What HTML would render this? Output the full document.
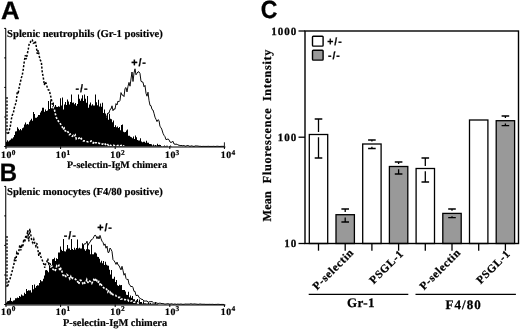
<!DOCTYPE html>
<html><head><meta charset="utf-8"><title>Figure</title>
<style>html,body{margin:0;padding:0;background:#fff}svg{display:block}</style></head>
<body>
<svg width="520" height="330" viewBox="0 0 520 330" text-rendering="geometricPrecision">
<rect width="520" height="330" fill="#fff"/>
<text transform="translate(1.1,18.8) scale(1.02,1)" font-family="'Liberation Sans',sans-serif" font-weight="bold" font-size="25.2" stroke="#000" stroke-width="0.3">A</text>
<clipPath id="clipA"><polygon points="6,146.5 6,141.7 7,141.7 7,140.3 8,140.3 8,141.4 9,141.4 9,140.6 10,140.6 10,139.8 11,139.8 11,138.4 12,138.4 12,138.6 13,138.6 13,137.2 14,137.2 14,135.1 15,135.1 15,131.4 16,131.4 16,131.2 17,131.2 17,127.2 18,127.2 18,128.7 19,128.7 19,130.2 20,130.2 20,128.9 21,128.9 21,130.3 22,130.3 22,128.2 23,128.2 23,127.5 24,127.5 24,124.6 25,124.6 25,122.6 26,122.6 26,124.6 27,124.6 27,123.9 28,123.9 28,124.4 29,124.4 29,121.8 30,121.8 30,120.2 31,120.2 31,118.8 32,118.8 32,120.8 33,120.8 33,112.0 34,112.0 34,114.1 35,114.1 35,117.8 36,117.8 36,117.8 37,117.8 37,116.8 38,116.8 38,115.1 39,115.1 39,115.0 40,115.0 40,112.5 41,112.5 41,110.7 42,110.7 42,107.7 43,107.7 43,107.8 44,107.8 44,111.8 45,111.8 45,109.4 46,109.4 46,111.0 47,111.0 47,110.6 48,110.6 48,101.1 49,101.1 49,109.1 50,109.1 50,99.5 51,99.5 51,108.2 52,108.2 52,106.3 53,106.3 53,102.5 54,102.5 54,106.8 55,106.8 55,104.9 56,104.9 56,106.8 57,106.8 57,106.9 58,106.9 58,106.2 59,106.2 59,106.7 60,106.7 60,98.3 61,98.3 61,105.4 62,105.4 62,97.4 63,97.4 63,109.5 64,109.5 64,104.6 65,104.6 65,102.1 66,102.1 66,105.0 67,105.0 67,99.6 68,99.6 68,101.4 69,101.4 69,104.6 70,104.6 70,102.1 71,102.1 71,94.5 72,94.5 72,102.7 73,102.7 73,102.4 74,102.4 74,104.3 75,104.3 75,102.9 76,102.9 76,105.8 77,105.8 77,103.9 78,103.9 78,94.5 79,94.5 79,98.8 80,98.8 80,100.7 81,100.7 81,98.6 82,98.6 82,95.2 83,95.2 83,100.9 84,100.9 84,94.5 85,94.5 85,98.8 86,98.8 86,102.8 87,102.8 87,95.9 88,95.9 88,107.7 89,107.7 89,104.5 90,104.5 90,102.4 91,102.4 91,105.4 92,105.4 92,104.3 93,104.3 93,105.4 94,105.4 94,105.6 95,105.6 95,94.5 96,94.5 96,102.2 97,102.2 97,105.3 98,105.3 98,99.7 99,99.7 99,106.5 100,106.5 100,103.4 101,103.4 101,106.8 102,106.8 102,102.8 103,102.8 103,113.1 104,113.1 104,109.4 105,109.4 105,113.5 106,113.5 106,117.3 107,117.3 107,113.3 108,113.3 108,119.7 109,119.7 109,113.8 110,113.8 110,118.7 111,118.7 111,119.2 112,119.2 112,122.2 113,122.2 113,120.6 114,120.6 114,126.9 115,126.9 115,125.3 116,125.3 116,127.3 117,127.3 117,126.5 118,126.5 118,128.1 119,128.1 119,127.0 120,127.0 120,130.3 121,130.3 121,125.1 122,125.1 122,124.6 123,124.6 123,131.7 124,131.7 124,132.2 125,132.2 125,132.1 126,132.1 126,130.4 127,130.4 127,129.5 128,129.5 128,135.7 129,135.7 129,135.7 130,135.7 130,136.7 131,136.7 131,137.2 132,137.2 132,138.2 133,138.2 133,136.6 134,136.6 134,138.9 135,138.9 135,135.6 136,135.6 136,137.2 137,137.2 137,140.1 138,140.1 138,140.5 139,140.5 139,140.6 140,140.6 140,138.3 141,138.3 141,141.5 142,141.5 142,142.3 143,142.3 143,141.8 144,141.8 144,141.7 145,141.7 145,142.8 146,142.8 146,140.7 147,140.7 147,142.8 148,142.8 148,142.8 149,142.8 149,144.0 150,144.0 150,143.9 151,143.9 151,144.3 152,144.3 152,145.4 153,145.4 153,144.5 154,144.5 154,145.5 155,145.5 155,145.0 156,145.0 156,145.6 157,145.6 157,143.7 158,143.7 158,145.1 159,145.1 159,144.8 160,144.8 160,144.9 161,144.9 161,146.0 162,146.0 162,146.3 163,146.3 163,145.9 164,145.9 164,145.5 165,145.5 165,146.0 166,146.0 166,145.7 167,145.7 167,145.7 168,145.7 168,146.4 169,146.4 169,146.1 170,146.1 170,145.5 171,145.5 171,146.3 172,146.3 172,146.5 173,146.5 173,146.4 174,146.4 174,146.4 175,146.4 175,146.5"/></clipPath>
<polyline points="104.0,119.6 105.0,115.8 106.0,117.1 107.0,115.5 108.0,112.9 109.0,113.1 110.0,109.5 111.0,109.0 112.0,105.8 113.0,110.7 114.0,108.8 115.0,109.3 116.0,103.6 117.0,105.0 118.0,101.0 119.0,101.8 120.0,100.4 121.0,92.6 122.0,95.1 123.0,95.1 124.0,96.6 125.0,88.4 126.0,87.6 127.0,91.9 128.0,86.3 129.0,82.4 130.0,86.2 131.0,79.0 132.0,72.0 133.0,81.5 134.0,73.0 135.0,68.8 136.0,74.8 137.0,73.2 138.0,71.8 139.0,71.9 140.0,73.5 141.0,81.3 142.0,81.9 143.0,82.2 144.0,86.8 145.0,85.4 146.0,93.3 147.0,96.2 148.0,92.2 149.0,100.4 150.0,105.4 151.0,105.7 152.0,109.4 153.0,110.0 154.0,113.3 155.0,117.2 156.0,119.3 157.0,121.6 158.0,119.7 159.0,120.5 160.0,126.6 161.0,127.5 162.0,129.9 163.0,133.3 164.0,135.3 165.0,136.7 166.0,139.7 167.0,139.3 168.0,139.0 169.0,139.7 170.0,142.0 171.0,142.5 172.0,142.0 173.0,141.3 174.0,144.0 175.0,144.2 176.0,144.3 177.0,144.1 178.0,145.2 179.0,144.9 180.0,145.8 181.0,145.3 182.0,145.7 183.0,145.8 184.0,145.4 185.0,146.2 186.0,146.1 187.0,145.6 188.0,145.6 189.0,145.9 190.0,146.5 191.0,145.8 192.0,146.0 193.0,146.2 194.0,146.5 195.0,146.0 196.0,145.8 197.0,146.1 198.0,145.9 199.0,146.4 200.0,146.2 201.0,146.4 202.0,146.5 203.0,146.3 204.0,146.4 205.0,146.4 206.0,146.4 207.0,146.4 208.0,146.3 209.0,146.3 210.0,146.5 211.0,146.3 212.0,146.5 213.0,146.3 214.0,146.3 215.0,146.5 216.0,146.4 217.0,146.2 218.0,146.3 219.0,146.4 220.0,146.5 221.0,146.3 222.0,146.4 223.0,146.3 224.0,146.4" fill="none" stroke="#000" stroke-width="0.95" stroke-linejoin="miter"/>
<polygon points="6,146.5 6,141.7 7,141.7 7,140.3 8,140.3 8,141.4 9,141.4 9,140.6 10,140.6 10,139.8 11,139.8 11,138.4 12,138.4 12,138.6 13,138.6 13,137.2 14,137.2 14,135.1 15,135.1 15,131.4 16,131.4 16,131.2 17,131.2 17,127.2 18,127.2 18,128.7 19,128.7 19,130.2 20,130.2 20,128.9 21,128.9 21,130.3 22,130.3 22,128.2 23,128.2 23,127.5 24,127.5 24,124.6 25,124.6 25,122.6 26,122.6 26,124.6 27,124.6 27,123.9 28,123.9 28,124.4 29,124.4 29,121.8 30,121.8 30,120.2 31,120.2 31,118.8 32,118.8 32,120.8 33,120.8 33,112.0 34,112.0 34,114.1 35,114.1 35,117.8 36,117.8 36,117.8 37,117.8 37,116.8 38,116.8 38,115.1 39,115.1 39,115.0 40,115.0 40,112.5 41,112.5 41,110.7 42,110.7 42,107.7 43,107.7 43,107.8 44,107.8 44,111.8 45,111.8 45,109.4 46,109.4 46,111.0 47,111.0 47,110.6 48,110.6 48,101.1 49,101.1 49,109.1 50,109.1 50,99.5 51,99.5 51,108.2 52,108.2 52,106.3 53,106.3 53,102.5 54,102.5 54,106.8 55,106.8 55,104.9 56,104.9 56,106.8 57,106.8 57,106.9 58,106.9 58,106.2 59,106.2 59,106.7 60,106.7 60,98.3 61,98.3 61,105.4 62,105.4 62,97.4 63,97.4 63,109.5 64,109.5 64,104.6 65,104.6 65,102.1 66,102.1 66,105.0 67,105.0 67,99.6 68,99.6 68,101.4 69,101.4 69,104.6 70,104.6 70,102.1 71,102.1 71,94.5 72,94.5 72,102.7 73,102.7 73,102.4 74,102.4 74,104.3 75,104.3 75,102.9 76,102.9 76,105.8 77,105.8 77,103.9 78,103.9 78,94.5 79,94.5 79,98.8 80,98.8 80,100.7 81,100.7 81,98.6 82,98.6 82,95.2 83,95.2 83,100.9 84,100.9 84,94.5 85,94.5 85,98.8 86,98.8 86,102.8 87,102.8 87,95.9 88,95.9 88,107.7 89,107.7 89,104.5 90,104.5 90,102.4 91,102.4 91,105.4 92,105.4 92,104.3 93,104.3 93,105.4 94,105.4 94,105.6 95,105.6 95,94.5 96,94.5 96,102.2 97,102.2 97,105.3 98,105.3 98,99.7 99,99.7 99,106.5 100,106.5 100,103.4 101,103.4 101,106.8 102,106.8 102,102.8 103,102.8 103,113.1 104,113.1 104,109.4 105,109.4 105,113.5 106,113.5 106,117.3 107,117.3 107,113.3 108,113.3 108,119.7 109,119.7 109,113.8 110,113.8 110,118.7 111,118.7 111,119.2 112,119.2 112,122.2 113,122.2 113,120.6 114,120.6 114,126.9 115,126.9 115,125.3 116,125.3 116,127.3 117,127.3 117,126.5 118,126.5 118,128.1 119,128.1 119,127.0 120,127.0 120,130.3 121,130.3 121,125.1 122,125.1 122,124.6 123,124.6 123,131.7 124,131.7 124,132.2 125,132.2 125,132.1 126,132.1 126,130.4 127,130.4 127,129.5 128,129.5 128,135.7 129,135.7 129,135.7 130,135.7 130,136.7 131,136.7 131,137.2 132,137.2 132,138.2 133,138.2 133,136.6 134,136.6 134,138.9 135,138.9 135,135.6 136,135.6 136,137.2 137,137.2 137,140.1 138,140.1 138,140.5 139,140.5 139,140.6 140,140.6 140,138.3 141,138.3 141,141.5 142,141.5 142,142.3 143,142.3 143,141.8 144,141.8 144,141.7 145,141.7 145,142.8 146,142.8 146,140.7 147,140.7 147,142.8 148,142.8 148,142.8 149,142.8 149,144.0 150,144.0 150,143.9 151,143.9 151,144.3 152,144.3 152,145.4 153,145.4 153,144.5 154,144.5 154,145.5 155,145.5 155,145.0 156,145.0 156,145.6 157,145.6 157,143.7 158,143.7 158,145.1 159,145.1 159,144.8 160,144.8 160,144.9 161,144.9 161,146.0 162,146.0 162,146.3 163,146.3 163,145.9 164,145.9 164,145.5 165,145.5 165,146.0 166,146.0 166,145.7 167,145.7 167,145.7 168,145.7 168,146.4 169,146.4 169,146.1 170,146.1 170,145.5 171,145.5 171,146.3 172,146.3 172,146.5 173,146.5 173,146.4 174,146.4 174,146.4 175,146.4 175,146.5" fill="#000"/>
<polyline points="8.3,133.9 9.3,130.1 10.3,126.6 11.3,119.5 12.3,115.0 13.3,113.4 14.3,107.8 15.3,104.8 16.3,101.3 17.3,91.7 18.3,92.4 19.3,86.6 20.3,82.4 21.3,78.1 22.3,74.9 23.3,69.1 24.3,61.2 25.3,55.3 26.3,59.2 27.3,53.8 28.3,49.2 29.3,43.0 30.3,42.4 31.3,39.9 32.3,39.9 33.3,43.2 34.3,42.9 35.3,41.0 36.3,46.6 37.3,53.9 38.3,50.3 39.3,56.4 40.3,60.2 41.3,61.6 42.3,72.5 43.3,77.4 44.3,84.9 45.3,81.8 46.3,83.8 47.3,87.7 48.3,90.0 49.3,90.4 50.3,94.6 51.3,98.9 52.3,104.1 53.3,107.9 54.3,109.0 55.3,113.8 56.3,117.2 57.3,119.7 58.3,121.0 59.3,122.4 60.3,123.7 61.3,125.3 62.3,127.0 63.3,129.7 64.3,128.2 65.3,131.0 66.3,131.0 67.3,130.6 68.3,132.6 69.3,134.6 70.3,134.0 71.3,135.5 72.3,136.3 73.3,135.4 74.3,136.5 75.3,135.1 76.3,139.0 77.3,138.5 78.3,138.5 79.3,138.1 80.3,139.7 81.3,138.6 82.3,140.0 83.3,140.9 84.3,140.9 85.3,141.1 86.3,141.3 87.3,141.8 88.3,141.7 89.3,141.2 90.3,141.4 91.3,141.0 92.3,142.8 93.3,143.1 94.3,141.6 95.3,142.7 96.3,142.8 97.3,143.6 98.3,143.1 99.3,143.4 100.3,143.6 101.3,143.2 102.3,144.2 103.3,144.0 104.3,144.9 105.3,144.1 106.3,144.9 107.3,143.9 108.3,145.2 109.3,144.3 110.3,145.3 111.3,145.6 112.3,145.1 113.3,145.1 114.3,145.6 115.3,145.7 116.3,146.1 117.3,145.6 118.3,145.5 119.3,146.2 120.3,145.7 121.3,145.4 122.3,146.2 123.3,145.8 124.3,145.8" fill="none" stroke="#000" stroke-width="1.5" stroke-dasharray="2.1 1.6"/>
<polyline points="8.3,133.9 9.3,130.1 10.3,126.6 11.3,119.5 12.3,115.0 13.3,113.4 14.3,107.8 15.3,104.8 16.3,101.3 17.3,91.7 18.3,92.4 19.3,86.6 20.3,82.4 21.3,78.1 22.3,74.9 23.3,69.1 24.3,61.2 25.3,55.3 26.3,59.2 27.3,53.8 28.3,49.2 29.3,43.0 30.3,42.4 31.3,39.9 32.3,39.9 33.3,43.2 34.3,42.9 35.3,41.0 36.3,46.6 37.3,53.9 38.3,50.3 39.3,56.4 40.3,60.2 41.3,61.6 42.3,72.5 43.3,77.4 44.3,84.9 45.3,81.8 46.3,83.8 47.3,87.7 48.3,90.0 49.3,90.4 50.3,94.6 51.3,98.9 52.3,104.1 53.3,107.9 54.3,109.0 55.3,113.8 56.3,117.2 57.3,119.7 58.3,121.0 59.3,122.4 60.3,123.7 61.3,125.3 62.3,127.0 63.3,129.7 64.3,128.2 65.3,131.0 66.3,131.0 67.3,130.6 68.3,132.6 69.3,134.6 70.3,134.0 71.3,135.5 72.3,136.3 73.3,135.4 74.3,136.5 75.3,135.1 76.3,139.0 77.3,138.5 78.3,138.5 79.3,138.1 80.3,139.7 81.3,138.6 82.3,140.0 83.3,140.9 84.3,140.9 85.3,141.1 86.3,141.3 87.3,141.8 88.3,141.7 89.3,141.2 90.3,141.4 91.3,141.0 92.3,142.8 93.3,143.1 94.3,141.6 95.3,142.7 96.3,142.8 97.3,143.6 98.3,143.1 99.3,143.4 100.3,143.6 101.3,143.2 102.3,144.2 103.3,144.0 104.3,144.9 105.3,144.1 106.3,144.9 107.3,143.9 108.3,145.2 109.3,144.3 110.3,145.3 111.3,145.6 112.3,145.1 113.3,145.1 114.3,145.6 115.3,145.7 116.3,146.1 117.3,145.6 118.3,145.5 119.3,146.2 120.3,145.7 121.3,145.4 122.3,146.2 123.3,145.8 124.3,145.8" fill="none" stroke="#fff" stroke-width="1.6" stroke-dasharray="2.1 1.6" clip-path="url(#clipA)"/>
<path d="M7,97 V133 L8.3,134.5" fill="none" stroke="#000" stroke-width="1.3" stroke-dasharray="2 1.5"/>
<path d="M5.75,28.4 V147.0 H225.4" fill="none" stroke="#000" stroke-width="1.05"/>
<path d="M224.4,146.5 V142.3" stroke="#000" stroke-width="0.9"/>
<path d="M4.2,28.4 H6" stroke="#000" stroke-width="1"/>
<path d="M4.2,57.9 H6" stroke="#000" stroke-width="1"/>
<path d="M4.2,87.4 H6" stroke="#000" stroke-width="1"/>
<path d="M4.2,117.0 H6" stroke="#000" stroke-width="1"/>
<path d="M4.2,146.5 H6" stroke="#000" stroke-width="1"/>
<path d="M6.0,146.5 V149.0" stroke="#000" stroke-width="1"/>
<text x="1.1" y="158.3" font-family="'Liberation Serif',serif" font-weight="bold" font-size="9.8" letter-spacing="0.6" stroke="#000" stroke-width="0.2">10<tspan dy="-3.6" dx="-0.3" font-size="7.4">0</tspan></text>
<path d="M60.6,146.5 V149.0" stroke="#000" stroke-width="1"/>
<text x="55.7" y="158.3" font-family="'Liberation Serif',serif" font-weight="bold" font-size="9.8" letter-spacing="0.6" stroke="#000" stroke-width="0.2">10<tspan dy="-3.6" dx="-0.3" font-size="7.4">1</tspan></text>
<path d="M115.2,146.5 V149.0" stroke="#000" stroke-width="1"/>
<text x="110.3" y="158.3" font-family="'Liberation Serif',serif" font-weight="bold" font-size="9.8" letter-spacing="0.6" stroke="#000" stroke-width="0.2">10<tspan dy="-3.6" dx="-0.3" font-size="7.4">2</tspan></text>
<path d="M169.8,146.5 V149.0" stroke="#000" stroke-width="1"/>
<text x="164.9" y="158.3" font-family="'Liberation Serif',serif" font-weight="bold" font-size="9.8" letter-spacing="0.6" stroke="#000" stroke-width="0.2">10<tspan dy="-3.6" dx="-0.3" font-size="7.4">3</tspan></text>
<path d="M224.4,146.5 V149.0" stroke="#000" stroke-width="1"/>
<text x="220.8" y="158.3" font-family="'Liberation Serif',serif" font-weight="bold" font-size="9.8" letter-spacing="0.6" stroke="#000" stroke-width="0.2">10<tspan dy="-3.6" dx="-0.3" font-size="7.4">4</tspan></text>
<text x="7.1" y="36.75" font-family="'Liberation Serif',serif" font-weight="bold" font-size="10.6" stroke="#000" stroke-width="0.2">Splenic neutrophils (Gr-1 positive)</text>
<text x="82" y="92.3" font-family="'Liberation Sans',sans-serif" font-weight="bold" font-size="10.8" text-anchor="middle" letter-spacing="0.9" stroke="#000" stroke-width="0.25">-/-</text>
<text x="139" y="66.3" font-family="'Liberation Sans',sans-serif" font-weight="bold" font-size="10.8" text-anchor="middle" letter-spacing="0.9" stroke="#000" stroke-width="0.25">+/-</text>
<text x="67" y="168" font-family="'Liberation Serif',serif" font-weight="bold" font-size="10.0" stroke="#000" stroke-width="0.2">P-selectin-IgM chimera</text>
<text transform="translate(-0.3,181.4) scale(0.95,1)" font-family="'Liberation Sans',sans-serif" font-weight="bold" font-size="25.2" stroke="#000" stroke-width="0.3">B</text>
<clipPath id="clipB"><polygon points="6,304.5 6,302.4 7,302.4 7,301.2 8,301.2 8,301.1 9,301.1 9,300.5 10,300.5 10,297.8 11,297.8 11,300.9 12,300.9 12,301.4 13,301.4 13,300.4 14,300.4 14,300.3 15,300.3 15,298.3 16,298.3 16,298.3 17,298.3 17,297.4 18,297.4 18,298.0 19,298.0 19,296.0 20,296.0 20,296.8 21,296.8 21,294.5 22,294.5 22,295.4 23,295.4 23,295.7 24,295.7 24,292.7 25,292.7 25,294.1 26,294.1 26,288.9 27,288.9 27,291.0 28,291.0 28,290.2 29,290.2 29,290.6 30,290.6 30,290.3 31,290.3 31,292.4 32,292.4 32,285.1 33,285.1 33,289.3 34,289.3 34,284.5 35,284.5 35,287.7 36,287.7 36,286.1 37,286.1 37,285.2 38,285.2 38,285.4 39,285.4 39,283.1 40,283.1 40,280.1 41,280.1 41,281.3 42,281.3 42,281.3 43,281.3 43,278.8 44,278.8 44,275.5 45,275.5 45,270.3 46,270.3 46,270.1 47,270.1 47,270.8 48,270.8 48,272.2 49,272.2 49,264.5 50,264.5 50,267.0 51,267.0 51,266.0 52,266.0 52,259.3 53,259.3 53,259.0 54,259.0 54,257.8 55,257.8 55,261.1 56,261.1 56,258.3 57,258.3 57,259.1 58,259.1 58,252.6 59,252.6 59,252.5 60,252.5 60,246.5 61,246.5 61,249.7 62,249.7 62,251.0 63,251.0 63,239.0 64,239.0 64,251.2 65,251.2 65,251.5 66,251.5 66,249.6 67,249.6 67,244.9 68,244.9 68,248.6 69,248.6 69,248.6 70,248.6 70,250.1 71,250.1 71,239.0 72,239.0 72,249.0 73,249.0 73,250.0 74,250.0 74,247.8 75,247.8 75,249.4 76,249.4 76,248.0 77,248.0 77,239.6 78,239.6 78,248.6 79,248.6 79,247.7 80,247.7 80,248.6 81,248.6 81,248.4 82,248.4 82,243.3 83,243.3 83,245.1 84,245.1 84,249.2 85,249.2 85,250.8 86,250.8 86,249.2 87,249.2 87,244.2 88,244.2 88,249.3 89,249.3 89,249.8 90,249.8 90,254.2 91,254.2 91,244.7 92,244.7 92,254.3 93,254.3 93,254.2 94,254.2 94,252.6 95,252.6 95,252.4 96,252.4 96,253.5 97,253.5 97,256.7 98,256.7 98,256.9 99,256.9 99,258.7 100,258.7 100,262.6 101,262.6 101,260.8 102,260.8 102,263.2 103,263.2 103,261.1 104,261.1 104,265.1 105,265.1 105,261.8 106,261.8 106,264.7 107,264.7 107,265.5 108,265.5 108,265.8 109,265.8 109,269.7 110,269.7 110,274.5 111,274.5 111,270.1 112,270.1 112,278.8 113,278.8 113,278.8 114,278.8 114,276.8 115,276.8 115,281.9 116,281.9 116,280.1 117,280.1 117,285.2 118,285.2 118,286.1 119,286.1 119,284.7 120,284.7 120,285.3 121,285.3 121,285.0 122,285.0 122,289.9 123,289.9 123,290.0 124,290.0 124,290.0 125,290.0 125,291.4 126,291.4 126,294.8 127,294.8 127,294.9 128,294.9 128,291.8 129,291.8 129,297.2 130,297.2 130,295.4 131,295.4 131,297.8 132,297.8 132,296.0 133,296.0 133,299.2 134,299.2 134,299.2 135,299.2 135,301.2 136,301.2 136,300.3 137,300.3 137,298.9 138,298.9 138,301.8 139,301.8 139,299.6 140,299.6 140,301.9 141,301.9 141,301.9 142,301.9 142,303.5 143,303.5 143,301.3 144,301.3 144,303.2 145,303.2 145,303.3 146,303.3 146,303.6 147,303.6 147,303.6 148,303.6 148,302.4 149,302.4 149,303.6 150,303.6 150,302.9 151,302.9 151,303.7 152,303.7 152,303.5 153,303.5 153,304.0 154,304.0 154,303.7 155,303.7 155,302.7 156,302.7 156,303.8 157,303.8 157,304.1 158,304.1 158,304.5"/></clipPath>
<polyline points="83.0,246.7 84.0,244.0 85.0,243.9 86.0,243.6 87.0,241.2 88.0,245.3 89.0,243.1 90.0,242.4 91.0,239.9 92.0,239.7 93.0,238.4 94.0,236.5 95.0,235.0 96.0,235.8 97.0,238.8 98.0,236.5 99.0,239.0 100.0,235.4 101.0,238.6 102.0,241.2 103.0,242.4 104.0,245.4 105.0,243.9 106.0,248.2 107.0,246.1 108.0,252.5 109.0,252.3 110.0,248.0 111.0,249.3 112.0,251.5 113.0,259.7 114.0,260.7 115.0,262.2 116.0,264.4 117.0,262.1 118.0,264.9 119.0,265.5 120.0,267.9 121.0,269.9 122.0,266.3 123.0,270.5 124.0,275.2 125.0,273.4 126.0,278.4 127.0,279.7 128.0,279.1 129.0,284.1 130.0,285.1 131.0,286.9 132.0,286.1 133.0,287.6 134.0,291.4 135.0,291.3 136.0,295.6 137.0,295.4 138.0,295.2 139.0,297.5 140.0,298.1 141.0,299.2 142.0,299.2 143.0,299.8 144.0,301.2 145.0,300.8 146.0,301.3 147.0,300.8 148.0,302.3 149.0,302.1 150.0,301.4 151.0,302.0 152.0,301.2 153.0,302.4 154.0,303.7 155.0,302.3 156.0,302.7 157.0,303.1 158.0,303.5 159.0,303.3 160.0,303.1 161.0,303.4 162.0,303.6 163.0,303.6 164.0,303.8 165.0,304.2 166.0,303.9 167.0,303.9 168.0,303.6 169.0,304.0 170.0,304.2 171.0,303.8 172.0,303.9 173.0,304.2 174.0,304.3 175.0,303.8 176.0,304.4 177.0,304.2 178.0,304.0 179.0,304.3 180.0,304.1 181.0,304.0 182.0,304.2 183.0,304.4 184.0,304.2 185.0,304.2 186.0,303.9 187.0,304.3 188.0,303.9 189.0,304.3 190.0,303.9 191.0,303.8 192.0,304.0 193.0,304.2 194.0,303.9 195.0,304.0 196.0,304.1 197.0,304.2 198.0,304.3 199.0,304.3 200.0,303.9 201.0,304.2 202.0,304.2 203.0,304.3 204.0,304.2 205.0,304.3 206.0,304.4 207.0,304.3 208.0,304.4 209.0,304.3 210.0,304.3 211.0,304.4 212.0,304.3 213.0,304.3 214.0,304.5 215.0,304.4 216.0,304.4 217.0,304.4 218.0,304.2 219.0,304.4 220.0,304.4 221.0,304.5 222.0,304.3 223.0,304.5 224.0,304.4" fill="none" stroke="#000" stroke-width="0.95" stroke-linejoin="miter"/>
<polygon points="6,304.5 6,302.4 7,302.4 7,301.2 8,301.2 8,301.1 9,301.1 9,300.5 10,300.5 10,297.8 11,297.8 11,300.9 12,300.9 12,301.4 13,301.4 13,300.4 14,300.4 14,300.3 15,300.3 15,298.3 16,298.3 16,298.3 17,298.3 17,297.4 18,297.4 18,298.0 19,298.0 19,296.0 20,296.0 20,296.8 21,296.8 21,294.5 22,294.5 22,295.4 23,295.4 23,295.7 24,295.7 24,292.7 25,292.7 25,294.1 26,294.1 26,288.9 27,288.9 27,291.0 28,291.0 28,290.2 29,290.2 29,290.6 30,290.6 30,290.3 31,290.3 31,292.4 32,292.4 32,285.1 33,285.1 33,289.3 34,289.3 34,284.5 35,284.5 35,287.7 36,287.7 36,286.1 37,286.1 37,285.2 38,285.2 38,285.4 39,285.4 39,283.1 40,283.1 40,280.1 41,280.1 41,281.3 42,281.3 42,281.3 43,281.3 43,278.8 44,278.8 44,275.5 45,275.5 45,270.3 46,270.3 46,270.1 47,270.1 47,270.8 48,270.8 48,272.2 49,272.2 49,264.5 50,264.5 50,267.0 51,267.0 51,266.0 52,266.0 52,259.3 53,259.3 53,259.0 54,259.0 54,257.8 55,257.8 55,261.1 56,261.1 56,258.3 57,258.3 57,259.1 58,259.1 58,252.6 59,252.6 59,252.5 60,252.5 60,246.5 61,246.5 61,249.7 62,249.7 62,251.0 63,251.0 63,239.0 64,239.0 64,251.2 65,251.2 65,251.5 66,251.5 66,249.6 67,249.6 67,244.9 68,244.9 68,248.6 69,248.6 69,248.6 70,248.6 70,250.1 71,250.1 71,239.0 72,239.0 72,249.0 73,249.0 73,250.0 74,250.0 74,247.8 75,247.8 75,249.4 76,249.4 76,248.0 77,248.0 77,239.6 78,239.6 78,248.6 79,248.6 79,247.7 80,247.7 80,248.6 81,248.6 81,248.4 82,248.4 82,243.3 83,243.3 83,245.1 84,245.1 84,249.2 85,249.2 85,250.8 86,250.8 86,249.2 87,249.2 87,244.2 88,244.2 88,249.3 89,249.3 89,249.8 90,249.8 90,254.2 91,254.2 91,244.7 92,244.7 92,254.3 93,254.3 93,254.2 94,254.2 94,252.6 95,252.6 95,252.4 96,252.4 96,253.5 97,253.5 97,256.7 98,256.7 98,256.9 99,256.9 99,258.7 100,258.7 100,262.6 101,262.6 101,260.8 102,260.8 102,263.2 103,263.2 103,261.1 104,261.1 104,265.1 105,265.1 105,261.8 106,261.8 106,264.7 107,264.7 107,265.5 108,265.5 108,265.8 109,265.8 109,269.7 110,269.7 110,274.5 111,274.5 111,270.1 112,270.1 112,278.8 113,278.8 113,278.8 114,278.8 114,276.8 115,276.8 115,281.9 116,281.9 116,280.1 117,280.1 117,285.2 118,285.2 118,286.1 119,286.1 119,284.7 120,284.7 120,285.3 121,285.3 121,285.0 122,285.0 122,289.9 123,289.9 123,290.0 124,290.0 124,290.0 125,290.0 125,291.4 126,291.4 126,294.8 127,294.8 127,294.9 128,294.9 128,291.8 129,291.8 129,297.2 130,297.2 130,295.4 131,295.4 131,297.8 132,297.8 132,296.0 133,296.0 133,299.2 134,299.2 134,299.2 135,299.2 135,301.2 136,301.2 136,300.3 137,300.3 137,298.9 138,298.9 138,301.8 139,301.8 139,299.6 140,299.6 140,301.9 141,301.9 141,301.9 142,301.9 142,303.5 143,303.5 143,301.3 144,301.3 144,303.2 145,303.2 145,303.3 146,303.3 146,303.6 147,303.6 147,303.6 148,303.6 148,302.4 149,302.4 149,303.6 150,303.6 150,302.9 151,302.9 151,303.7 152,303.7 152,303.5 153,303.5 153,304.0 154,304.0 154,303.7 155,303.7 155,302.7 156,302.7 156,303.8 157,303.8 157,304.1 158,304.1 158,304.5" fill="#000"/>
<polyline points="7.8,286.2 8.8,281.3 9.8,280.0 10.8,275.8 11.8,272.9 12.8,268.2 13.8,265.3 14.8,257.3 15.8,261.1 16.8,252.8 17.8,254.7 18.8,251.6 19.8,244.9 20.8,250.4 21.8,245.7 22.8,246.6 23.8,239.2 24.8,242.3 25.8,235.6 26.8,237.2 27.8,230.2 28.8,241.5 29.8,228.9 30.8,234.7 31.8,240.8 32.8,242.7 33.8,239.3 34.8,243.4 35.8,246.1 36.8,243.1 37.8,249.1 38.8,255.8 39.8,251.5 40.8,256.5 41.8,259.1 42.8,261.5 43.8,264.0 44.8,267.7 45.8,262.8 46.8,262.2 47.8,258.6 48.8,263.9 49.8,262.8 50.8,266.8 51.8,266.2 52.8,269.0 53.8,269.9 54.8,271.2 55.8,269.5 56.8,265.7 57.8,266.6 58.8,265.5 59.8,270.8 60.8,268.6 61.8,270.8 62.8,274.7 63.8,276.4 64.8,275.5 65.8,276.4 66.8,274.4 67.8,275.2 68.8,276.7 69.8,278.9 70.8,276.6 71.8,279.3 72.8,277.9 73.8,278.3 74.8,278.8 75.8,279.5 76.8,281.7 77.8,281.6 78.8,284.1 79.8,280.5 80.8,280.2 81.8,281.7 82.8,283.4 83.8,281.6 84.8,283.2 85.8,282.5 86.8,279.6 87.8,282.2 88.8,283.1 89.8,281.2 90.8,282.0 91.8,283.4 92.8,281.3 93.8,279.6 94.8,281.5 95.8,278.5 96.8,280.5 97.8,283.0 98.8,281.6 99.8,284.3 100.8,282.9 101.8,286.1 102.8,286.4 103.8,287.9 104.8,287.9 105.8,288.2 106.8,289.6 107.8,291.9 108.8,290.1 109.8,291.2 110.8,294.6 111.8,292.3 112.8,294.6 113.8,294.9 114.8,295.3 115.8,295.4 116.8,297.0 117.8,297.5 118.8,297.4 119.8,297.4 120.8,299.2 121.8,299.0 122.8,299.0 123.8,299.6 124.8,299.6 125.8,299.7 126.8,300.1 127.8,299.7 128.8,301.1 129.8,300.8 130.8,301.2 131.8,300.8 132.8,300.8 133.8,302.2 134.8,302.3 135.8,302.7 136.8,302.7 137.8,303.0 138.8,303.3 139.8,303.7" fill="none" stroke="#000" stroke-width="1.5" stroke-dasharray="2.1 1.6"/>
<polyline points="7.8,286.2 8.8,281.3 9.8,280.0 10.8,275.8 11.8,272.9 12.8,268.2 13.8,265.3 14.8,257.3 15.8,261.1 16.8,252.8 17.8,254.7 18.8,251.6 19.8,244.9 20.8,250.4 21.8,245.7 22.8,246.6 23.8,239.2 24.8,242.3 25.8,235.6 26.8,237.2 27.8,230.2 28.8,241.5 29.8,228.9 30.8,234.7 31.8,240.8 32.8,242.7 33.8,239.3 34.8,243.4 35.8,246.1 36.8,243.1 37.8,249.1 38.8,255.8 39.8,251.5 40.8,256.5 41.8,259.1 42.8,261.5 43.8,264.0 44.8,267.7 45.8,262.8 46.8,262.2 47.8,258.6 48.8,263.9 49.8,262.8 50.8,266.8 51.8,266.2 52.8,269.0 53.8,269.9 54.8,271.2 55.8,269.5 56.8,265.7 57.8,266.6 58.8,265.5 59.8,270.8 60.8,268.6 61.8,270.8 62.8,274.7 63.8,276.4 64.8,275.5 65.8,276.4 66.8,274.4 67.8,275.2 68.8,276.7 69.8,278.9 70.8,276.6 71.8,279.3 72.8,277.9 73.8,278.3 74.8,278.8 75.8,279.5 76.8,281.7 77.8,281.6 78.8,284.1 79.8,280.5 80.8,280.2 81.8,281.7 82.8,283.4 83.8,281.6 84.8,283.2 85.8,282.5 86.8,279.6 87.8,282.2 88.8,283.1 89.8,281.2 90.8,282.0 91.8,283.4 92.8,281.3 93.8,279.6 94.8,281.5 95.8,278.5 96.8,280.5 97.8,283.0 98.8,281.6 99.8,284.3 100.8,282.9 101.8,286.1 102.8,286.4 103.8,287.9 104.8,287.9 105.8,288.2 106.8,289.6 107.8,291.9 108.8,290.1 109.8,291.2 110.8,294.6 111.8,292.3 112.8,294.6 113.8,294.9 114.8,295.3 115.8,295.4 116.8,297.0 117.8,297.5 118.8,297.4 119.8,297.4 120.8,299.2 121.8,299.0 122.8,299.0 123.8,299.6 124.8,299.6 125.8,299.7 126.8,300.1 127.8,299.7 128.8,301.1 129.8,300.8 130.8,301.2 131.8,300.8 132.8,300.8 133.8,302.2 134.8,302.3 135.8,302.7 136.8,302.7 137.8,303.0 138.8,303.3 139.8,303.7" fill="none" stroke="#fff" stroke-width="1.6" stroke-dasharray="2.1 1.6" clip-path="url(#clipB)"/>
<path d="M7,236 V287 L7.8,286.5" fill="none" stroke="#000" stroke-width="1.3" stroke-dasharray="2 1.5"/>
<path d="M5.75,186.4 V305.0 H225.4" fill="none" stroke="#000" stroke-width="1.05"/>
<path d="M4.2,186.4 H6" stroke="#000" stroke-width="1"/>
<path d="M4.2,215.9 H6" stroke="#000" stroke-width="1"/>
<path d="M4.2,245.4 H6" stroke="#000" stroke-width="1"/>
<path d="M4.2,275.0 H6" stroke="#000" stroke-width="1"/>
<path d="M4.2,304.5 H6" stroke="#000" stroke-width="1"/>
<path d="M6.0,304.5 V307.0" stroke="#000" stroke-width="1"/>
<text x="1.1" y="314.8" font-family="'Liberation Serif',serif" font-weight="bold" font-size="9.8" letter-spacing="0.6" stroke="#000" stroke-width="0.2">10<tspan dy="-3.6" dx="-0.3" font-size="7.4">0</tspan></text>
<path d="M60.6,304.5 V307.0" stroke="#000" stroke-width="1"/>
<text x="55.7" y="314.8" font-family="'Liberation Serif',serif" font-weight="bold" font-size="9.8" letter-spacing="0.6" stroke="#000" stroke-width="0.2">10<tspan dy="-3.6" dx="-0.3" font-size="7.4">1</tspan></text>
<path d="M115.2,304.5 V307.0" stroke="#000" stroke-width="1"/>
<text x="110.3" y="314.8" font-family="'Liberation Serif',serif" font-weight="bold" font-size="9.8" letter-spacing="0.6" stroke="#000" stroke-width="0.2">10<tspan dy="-3.6" dx="-0.3" font-size="7.4">2</tspan></text>
<path d="M169.8,304.5 V307.0" stroke="#000" stroke-width="1"/>
<text x="164.9" y="314.8" font-family="'Liberation Serif',serif" font-weight="bold" font-size="9.8" letter-spacing="0.6" stroke="#000" stroke-width="0.2">10<tspan dy="-3.6" dx="-0.3" font-size="7.4">3</tspan></text>
<path d="M224.4,304.5 V307.0" stroke="#000" stroke-width="1"/>
<text x="220.8" y="314.8" font-family="'Liberation Serif',serif" font-weight="bold" font-size="9.8" letter-spacing="0.6" stroke="#000" stroke-width="0.2">10<tspan dy="-3.6" dx="-0.3" font-size="7.4">4</tspan></text>
<text x="7.1" y="194.55" font-family="'Liberation Serif',serif" font-weight="bold" font-size="10.6" stroke="#000" stroke-width="0.2">Splenic monocytes (F4/80 positive)</text>
<text x="70.2" y="239.3" font-family="'Liberation Sans',sans-serif" font-weight="bold" font-size="10.8" text-anchor="middle" letter-spacing="0.9" stroke="#000" stroke-width="0.25">-/-</text>
<text x="105" y="231" font-family="'Liberation Sans',sans-serif" font-weight="bold" font-size="10.8" text-anchor="middle" letter-spacing="0.9" stroke="#000" stroke-width="0.25">+/-</text>
<text x="63" y="326" font-family="'Liberation Serif',serif" font-weight="bold" font-size="10.4" stroke="#000" stroke-width="0.2">P-selectin-IgM chimera</text>
<text transform="translate(260.8,17.9) scale(0.92,1)" font-family="'Liberation Sans',sans-serif" font-weight="bold" font-size="25.0" stroke="#000" stroke-width="0.3">C</text>
<rect x="309.3" y="134.5" width="18.4" height="109.0" fill="#fff" stroke="#000" stroke-width="1.3"/>
<path d="M318.5,119 V131.9 M318.5,137.3 V158 M314.7,119 H322.3 M314.7,158 H322.3" stroke="#000" stroke-width="1.3" fill="none"/>
<rect x="336.0" y="214.7" width="18.4" height="28.8" fill="#999" stroke="#000" stroke-width="1.3"/>
<path d="M345.2,209 V212.1 M345.2,217.5 V222 M341.4,209 H349.0 M341.4,222 H349.0" stroke="#000" stroke-width="1.3" fill="none"/>
<rect x="362.7" y="144" width="18.4" height="99.5" fill="#fff" stroke="#000" stroke-width="1.3"/>
<path d="M371.9,140 V141.4 M371.9,146.8 V148.5 M368.1,140 H375.7 M368.1,148.5 H375.7" stroke="#000" stroke-width="1.3" fill="none"/>
<rect x="389.4" y="166.5" width="18.4" height="77.0" fill="#999" stroke="#000" stroke-width="1.3"/>
<path d="M398.6,162 V163.9 M398.6,169.3 V174 M394.8,162 H402.4 M394.8,174 H402.4" stroke="#000" stroke-width="1.3" fill="none"/>
<rect x="416.1" y="168.5" width="18.4" height="75.0" fill="#fff" stroke="#000" stroke-width="1.3"/>
<path d="M425.3,158 V165.9 M425.3,171.3 V182 M421.5,158 H429.1 M421.5,182 H429.1" stroke="#000" stroke-width="1.3" fill="none"/>
<rect x="442.8" y="213.4" width="18.4" height="30.1" fill="#999" stroke="#000" stroke-width="1.3"/>
<path d="M452.0,209 V210.8 M452.0,216.2 V217.7 M448.2,209 H455.8 M448.2,217.7 H455.8" stroke="#000" stroke-width="1.3" fill="none"/>
<rect x="469.5" y="120" width="18.4" height="123.5" fill="#fff" stroke="#000" stroke-width="1.3"/>
<rect x="496.2" y="120.7" width="18.4" height="122.8" fill="#999" stroke="#000" stroke-width="1.3"/>
<path d="M505.4,116 V118.1 M505.4,123.5 V125.7 M501.6,116 H509.2 M501.6,125.7 H509.2" stroke="#000" stroke-width="1.3" fill="none"/>
<rect x="305" y="31" width="213.5" height="212.5" fill="none" stroke="#000" stroke-width="1.4"/>
<path d="M298.5,31.0 H305" stroke="#000" stroke-width="1.3"/>
<text x="297.2" y="34.7" font-family="'Liberation Serif',serif" font-weight="bold" font-size="11" text-anchor="end" letter-spacing="1.0" stroke="#000" stroke-width="0.25">1000</text>
<path d="M298.5,137.2 H305" stroke="#000" stroke-width="1.3"/>
<text x="297.2" y="140.9" font-family="'Liberation Serif',serif" font-weight="bold" font-size="11" text-anchor="end" letter-spacing="1.0" stroke="#000" stroke-width="0.25">100</text>
<path d="M298.5,243.5 H305" stroke="#000" stroke-width="1.3"/>
<text x="297.2" y="247.2" font-family="'Liberation Serif',serif" font-weight="bold" font-size="11" text-anchor="end" letter-spacing="1.0" stroke="#000" stroke-width="0.25">10</text>
<path d="M318.5,243.5 V250.7" stroke="#000" stroke-width="1.3"/>
<path d="M345.2,243.5 V250.7" stroke="#000" stroke-width="1.3"/>
<path d="M371.9,243.5 V250.7" stroke="#000" stroke-width="1.3"/>
<path d="M398.6,243.5 V250.7" stroke="#000" stroke-width="1.3"/>
<path d="M425.3,243.5 V250.7" stroke="#000" stroke-width="1.3"/>
<path d="M452.0,243.5 V250.7" stroke="#000" stroke-width="1.3"/>
<path d="M478.7,243.5 V250.7" stroke="#000" stroke-width="1.3"/>
<path d="M505.4,243.5 V250.7" stroke="#000" stroke-width="1.3"/>
<rect x="312.5" y="36.3" width="10.6" height="9.8" rx="0.8" fill="#fff" stroke="#000" stroke-width="1.4"/>
<rect x="312.5" y="50.3" width="10.6" height="9.8" rx="0.8" fill="#999" stroke="#000" stroke-width="1.4"/>
<text x="327.3" y="44.8" font-family="'Liberation Sans',sans-serif" font-weight="bold" font-size="10.5" letter-spacing="0.9" stroke="#000" stroke-width="0.25">+/-</text>
<text x="328.1" y="58.8" font-family="'Liberation Sans',sans-serif" font-weight="bold" font-size="10.5" letter-spacing="0.9" stroke="#000" stroke-width="0.25">-/-</text>
<text transform="translate(270.7,221.4) rotate(-90)" font-family="'Liberation Serif',serif" font-weight="bold" font-size="12.2" letter-spacing="0.15" stroke="#000" stroke-width="0.25">Mean</text>
<text transform="translate(270.7,183.2) rotate(-90)" font-family="'Liberation Serif',serif" font-weight="bold" font-size="12.2" letter-spacing="0.67" stroke="#000" stroke-width="0.25">Fluorescence</text>
<text transform="translate(270.7,101.1) rotate(-90)" font-family="'Liberation Serif',serif" font-weight="bold" font-size="12.2" letter-spacing="0.67" stroke="#000" stroke-width="0.25">Intensity</text>
<text transform="translate(354.5,253.1) rotate(-45)" font-family="'Liberation Serif',serif" font-weight="bold" font-size="11.2" text-anchor="end" letter-spacing="0.7" stroke="#000" stroke-width="0.25">P-selectin</text>
<text transform="translate(404.1,254.2) rotate(-45)" font-family="'Liberation Serif',serif" font-weight="bold" font-size="11.2" text-anchor="end" letter-spacing="0.7" stroke="#000" stroke-width="0.25">PSGL-1</text>
<text transform="translate(461.4,253.1) rotate(-45)" font-family="'Liberation Serif',serif" font-weight="bold" font-size="11.2" text-anchor="end" letter-spacing="0.7" stroke="#000" stroke-width="0.25">P-selectin</text>
<text transform="translate(510.9,254.2) rotate(-45)" font-family="'Liberation Serif',serif" font-weight="bold" font-size="11.2" text-anchor="end" letter-spacing="0.7" stroke="#000" stroke-width="0.25">PSGL-1</text>
<path d="M308.7,294.4 H408.3 M415.5,294.4 H515.9" stroke="#000" stroke-width="1.3"/>
<text x="347" y="307.3" font-family="'Liberation Serif',serif" font-weight="bold" font-size="13" letter-spacing="0.4" stroke="#000" stroke-width="0.25">Gr-1</text>
<text x="445.6" y="308.7" font-family="'Liberation Serif',serif" font-weight="bold" font-size="13" letter-spacing="1.0" stroke="#000" stroke-width="0.25">F4/80</text>
</svg>
</body></html>
